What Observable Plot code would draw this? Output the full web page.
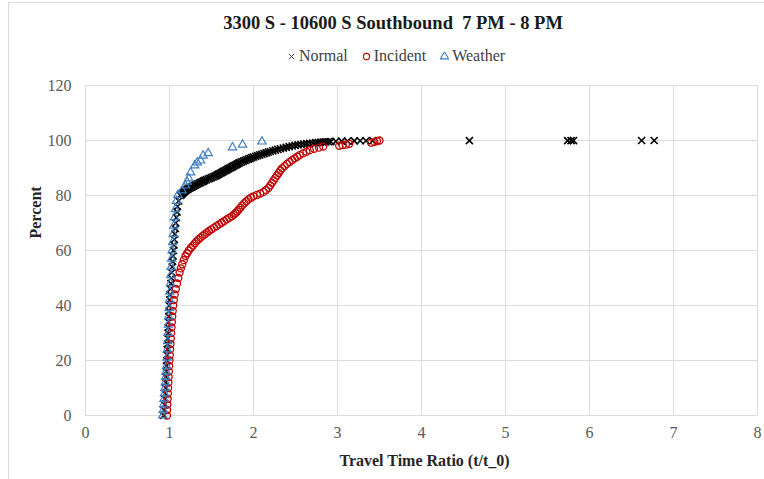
<!DOCTYPE html>
<html>
<head>
<meta charset="utf-8">
<script src="https://cdn.jsdelivr.net/npm/d3@7"></script>
<script src="https://cdn.jsdelivr.net/npm/@observablehq/plot@0.6"></script>
<style>
  html, body { margin: 0; padding: 0; background: #fff; }
  #wrap { position: relative; width: 764px; height: 479px; overflow: hidden; font-family: "Liberation Serif", "Times New Roman", serif; }
  #frame { position: absolute; left: 8px; top: 2px; width: 790px; height: 500px; border: 1px solid #d9d9d9; box-sizing: border-box; }
  #title { position: absolute; left: 0; width: 786px; top: 13px; text-align: center; font-weight: bold; font-size: 18.5px; color: #1a1a1a; }
  #legend { position: absolute; left: 0; width: 792px; top: 47px; text-align: center; font-size: 16px; color: #404040; white-space: nowrap; }
  #legend span.item { margin: 0 7px; }
  #legend svg { vertical-align: middle; margin-right: 3px; position: relative; top: -1px; }
  #chart { position: absolute; left: 0; top: 0; }
</style>
</head>
<body>
<div id="wrap">
  <div id="frame"></div>
  <div id="chart"></div>
  <div id="title">3300 S - 10600 S Southbound&nbsp; 7 PM - 8 PM</div>
  <div id="legend"></div>
</div>
<script>
// ---- data ----
const seriesNames = ["Normal", "Incident", "Weather"];

const normalRatio = [0.93,0.935,0.94,0.944,0.948,0.952,0.955,0.958,0.961,0.964,0.968,0.971,0.974,0.977,0.98,0.983,0.986,0.989,0.992,0.995,0.998,1.002,1.007,1.012,1.017,1.022,1.027,1.032,1.037,1.042,1.048,1.053,1.058,1.063,1.069,1.075,1.082,1.09,1.095,1.11,
  1.13,1.137,1.145,1.152,1.16,1.17,1.18,1.19,1.2,1.215,1.23,1.245,1.26,1.275,1.29,1.305,1.32,1.337,1.355,1.372,
  1.39,1.405,1.42,1.44,1.46,1.48,1.5,1.52,1.54,1.555,1.57,1.585,1.6,1.615,1.63,1.645,1.66,1.675,1.69,1.705,
  1.72,1.735,1.75,1.765,1.78,1.795,1.81,1.825,1.84,1.86,1.88,1.9,1.92,1.94,1.96,1.98,2.0,2.025,2.05,2.075,
  2.1,2.125,2.15,2.175,2.2,2.23,2.26,2.29,2.32,2.355,2.39,2.425,2.46,2.495,2.53,2.565,2.6,2.635,2.67,2.705,2.74,2.77,2.8,2.83,2.86,2.89,2.92,2.98,
  3.05,3.12,3.2,3.27,3.34,3.42,
  4.57,5.74,5.78,5.81,6.62,6.77];
const normalPercent = [0,2,4,6,8,10,12,14,16,18,20,22,24,26,28,30,32,34,36,38,40,42,44,46,48,50,52,54,56,58,60,62,64,66,68,70,72,74,76,78,
  80,80.25,80.5,80.75,81,81.25,81.5,81.75,82,82.25,82.5,82.75,83,83.25,83.5,83.75,84,84.25,84.5,84.75,
  85,85.25,85.5,85.75,86,86.25,86.5,86.75,87,87.25,87.5,87.75,88,88.25,88.5,88.75,89,89.25,89.5,89.75,
  90,90.25,90.5,90.75,91,91.25,91.5,91.75,92,92.25,92.5,92.75,93,93.25,93.5,93.75,94,94.25,94.5,94.75,
  95,95.25,95.5,95.75,96,96.25,96.5,96.75,97,97.25,97.5,97.75,98,98.2,98.4,98.55,98.7,98.85,99,99.1,99.2,99.3,99.4,99.45,99.5,99.55,99.6,99.7,
  99.76,99.82,99.86,99.9,99.92,99.94,
  99.95,99.96,99.97,99.98,99.99,100];

const incidentRatio = [0.97,0.972,0.975,0.978,0.981,0.984,0.987,0.99,0.993,0.996,1.0,1.004,1.008,1.012,1.016,1.02,1.024,1.028,1.033,1.038,1.044,1.052,1.062,1.075,1.09,1.105,1.12,1.135,1.152,1.17,1.19,1.21,1.23,1.255,1.28,1.3,1.32,1.345,1.37,1.395,1.42,1.445,1.47,1.5,1.53,1.56,1.59,1.62,1.65,1.68,1.71,1.74,1.765,1.785,1.805,1.825,1.845,1.865,1.89,1.915,1.94,1.97,2.0,2.04,2.08,2.12,2.15,2.18,2.2,2.22,2.24,2.26,2.28,2.3,2.32,2.34,2.37,2.4,2.43,2.46,2.49,2.52,2.55,2.59,2.63,2.67,2.72,2.78,2.83,3.02,3.06,3.1,3.14,3.4,3.44,3.47,3.5];
const incidentPercent = [0,2,4,6,8,10,12,14,16,18,20,22,24,26,28,30,32,34,36,38,40,42,44,46,48,50,52,53.5,55,56.5,58,59,60,61,61.8,62.6,63.3,64,64.7,65.3,65.9,66.5,67.1,67.7,68.3,68.9,69.5,70.1,70.7,71.3,71.9,72.4,73,73.6,74.2,74.9,75.6,76.4,77.2,77.9,78.6,79.2,79.7,80.2,80.7,81.3,82,82.8,83.7,84.6,85.5,86.4,87.3,88.2,89.1,89.9,90.7,91.5,92.2,92.9,93.5,94.1,94.7,95.3,95.9,96.5,97,97.4,97.8,98.1,98.3,98.5,98.8,99.2,99.5,99.8,100];

const weatherRatio = [0.92,0.925,0.93,0.935,0.94,0.945,0.95,0.955,0.96,0.965,0.97,0.974,0.978,0.982,0.986,0.99,0.995,1.0,1.005,1.01,1.015,1.02,1.026,1.032,1.038,1.045,1.052,1.06,1.07,1.082,1.1,1.15,1.19,1.21,1.23,1.25,1.3,1.33,1.37,1.4,1.46,1.75,1.87,2.1];
const weatherPercent = [0,2,4,6,8,10,12,14,16,18,21,24,27,30,33,36,39,42,45,48,51,54,57,60,63,66,69,72,75,78,80.2,81.8,83.6,85,86.2,88.4,90.9,92,92.7,94.5,95.4,97.5,98.5,99.6];

const xTicks = [0,1,2,3,4,5,6,7,8];
const yTicks = [0,20,40,60,80,100,120];

const colors = { Normal: "#000000", Incident: "#c00000", Weather: "#3f7fc2" };

// ---- build table ----
const rows = [];
normalRatio.forEach((r, i) => rows.push({ series: "Normal", ratio: r, percent: normalPercent[i] }));
incidentRatio.forEach((r, i) => rows.push({ series: "Incident", ratio: r, percent: incidentPercent[i] }));
weatherRatio.forEach((r, i) => rows.push({ series: "Weather", ratio: r, percent: weatherPercent[i] }));

const font = '"Liberation Serif", "Times New Roman", serif';

const chart = Plot.plot({
  width: 764,
  height: 479,
  marginLeft: 85,
  marginRight: 7,
  marginTop: 85,
  marginBottom: 64,
  style: { fontFamily: font, fontSize: "16px", color: "#595959", background: "transparent" },
  x: { domain: [0, 8], ticks: xTicks, label: null },
  y: { domain: [0, 120], ticks: yTicks, label: null },
  marks: [
    Plot.gridX(xTicks, { stroke: "#dcdcdc", strokeOpacity: 1, strokeWidth: 1 }),
    Plot.gridY(yTicks, { stroke: "#dcdcdc", strokeOpacity: 1, strokeWidth: 1 }),
    Plot.axisX(xTicks, { tickSize: 0, tickPadding: 11, fontSize: 16, fill: "#595959", label: null }),
    Plot.axisY(yTicks, { tickSize: 0, tickPadding: 14, fontSize: 16, fill: "#595959", label: null }),
    Plot.text(["Travel Time Ratio (t/t_0)"], { frameAnchor: "bottom", dy: 50, dx: 3, fontWeight: "bold", fontSize: 16, fill: "#262626" }),
    Plot.text(["Percent"], { frameAnchor: "left", dx: -50, dy: -12, rotate: -90, fontWeight: "bold", fontSize: 16, fill: "#262626" }),
    Plot.dot(rows.filter(d => d.series === "Normal"), { x: "ratio", y: "percent", symbol: "times", r: 3.3, stroke: colors.Normal, strokeWidth: 1.6 }),
    Plot.dot(rows.filter(d => d.series === "Incident"), { x: "ratio", y: "percent", symbol: "circle", r: 3.5, stroke: colors.Incident, strokeWidth: 1.3, fill: "none" }),
    Plot.dot(rows.filter(d => d.series === "Weather"), { x: "ratio", y: "percent", symbol: "triangle", r: 3.1, stroke: colors.Weather, strokeWidth: 1.2, fill: "none" })
  ]
});
document.getElementById("chart").appendChild(chart);

// ---- legend ----
const legend = document.getElementById("legend");
const symbolFor = { Normal: d3.symbolTimes, Incident: d3.symbolCircle, Weather: d3.symbolTriangle };
seriesNames.forEach(name => {
  const span = document.createElement("span");
  span.className = "item";
  const s = d3.create("svg").attr("width", 9).attr("height", 9).attr("viewBox", "-4.5 -4.5 9 9");
  s.append("path").attr("d", d3.symbol(symbolFor[name], name === "Normal" ? 20 : 30)()).attr("fill", "none")
    .attr("stroke", name === "Normal" ? "#404040" : colors[name]).attr("stroke-width", name === "Normal" ? 1 : 1.1);
  span.appendChild(s.node());
  span.appendChild(document.createTextNode(name));
  legend.appendChild(span);
});
</script>
</body>
</html>
